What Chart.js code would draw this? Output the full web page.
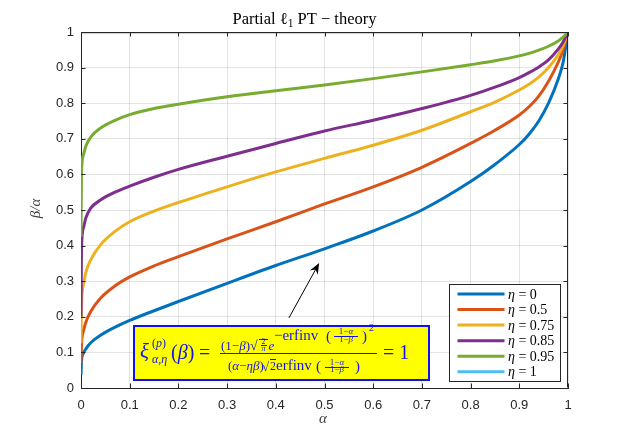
<!DOCTYPE html>
<html><head><meta charset="utf-8">
<script src="https://cdn.jsdelivr.net/npm/chart.js@4.4.0/dist/chart.umd.min.js"></script>
<style>
html,body{margin:0;padding:0;background:#fff;}
#wrap{position:relative;width:627px;height:436px;overflow:hidden;}
#c{position:absolute;left:0;top:0;}
.f{position:absolute;white-space:nowrap;line-height:1;font-family:'Liberation Serif',serif;color:#1414e6;}
.i{font-style:italic;}
.ln{position:absolute;background:#1414e6;}
.ct{text-align:center;}
</style></head><body>
<div id="wrap">
<canvas id="c" width="627" height="436"></canvas>
<div id="box" style="position:absolute;left:133px;top:325px;width:293px;height:52px;background:#ffff00;border:2px solid #1010f0;"></div>
<!-- formula -->
<span class="f i" style="font-size:21px;left:140px;top:341px;">ξ</span>
<span class="f" style="font-size:12px;left:152px;top:337px;">(<i>p</i>)</span>
<span class="f i" style="font-size:12px;left:152px;top:353px;">α,η</span>
<span class="f" style="font-size:20px;left:171px;top:342px;">(<i>β</i>)</span>
<span class="f" style="font-size:20px;left:199px;top:342px;">=</span>
<div class="ln" style="left:220px;top:352.5px;width:157px;height:1px;"></div>
<span class="f" style="font-size:13px;left:221px;top:339px;">(1−<i>β</i>)</span>
<span class="f" style="font-size:14px;left:250px;top:339px;">√</span>
<div class="ln" style="left:259px;top:338.5px;width:9px;height:0.8px;"></div>
<span class="f ct" style="font-size:8px;left:259px;width:9px;top:337.5px;">2</span>
<div class="ln" style="left:260.5px;top:345.3px;width:6px;height:0.6px;"></div>
<span class="f ct i" style="font-size:8px;left:259px;width:9px;top:344.5px;">π</span>
<span class="f i" style="font-size:13px;left:268.5px;top:339px;">e</span>
<span class="f" style="font-size:15px;left:274px;top:327.5px;">−erfinv</span>
<span class="f" style="font-size:15px;left:326px;top:328.5px;">(</span>
<span class="f ct" style="font-size:9px;left:331px;width:30px;top:327px;">1−<i>α</i></span>
<div class="ln" style="left:334px;top:336px;width:24px;height:0.7px;"></div>
<span class="f ct" style="font-size:9px;left:331px;width:30px;top:334.5px;">1−<i>β</i></span>
<span class="f" style="font-size:15px;left:362px;top:328.5px;">)</span>
<span class="f" style="font-size:10px;left:369px;top:322.5px;">2</span>
<span class="f" style="font-size:13px;left:228px;top:359px;">(<i>α</i>−<i>ηβ</i>)</span>
<span class="f" style="font-size:13px;left:262px;top:360px;">√</span>
<div class="ln" style="left:269.5px;top:358.6px;width:6.5px;height:0.8px;"></div>
<span class="f" style="font-size:12px;left:270px;top:360px;">2</span>
<span class="f" style="font-size:15px;left:276px;top:357.5px;">erfinv</span>
<span class="f" style="font-size:15px;left:316px;top:358.5px;">(</span>
<span class="f ct" style="font-size:9px;left:322px;width:30px;top:357.5px;">1−<i>α</i></span>
<div class="ln" style="left:325px;top:366.5px;width:24px;height:0.7px;"></div>
<span class="f ct" style="font-size:9px;left:322px;width:30px;top:365px;">1−<i>β</i></span>
<span class="f" style="font-size:15px;left:355px;top:358.5px;">)</span>
<span class="f" style="font-size:20px;left:383px;top:342px;">= 1</span>
</div>
<script>
// ---- data ----
const alpha  = [0, 0.001, 0.005, 0.01, 0.02, 0.04, 0.07, 0.1, 0.15, 0.2, 0.3, 0.4, 0.5, 0.6, 0.7, 0.8, 0.85, 0.9, 0.92, 0.94, 0.96, 0.98, 0.99, 1];
const eta0   = [0.037,0.075,0.098,0.110,0.127,0.148,0.171,0.190,0.217,0.243,0.294,0.344,0.391,0.441,0.500,0.580,0.628,0.684,0.713,0.750,0.800,0.868,0.915,1];
const eta05  = [0.070,0.120,0.160,0.185,0.215,0.252,0.287,0.312,0.343,0.369,0.419,0.467,0.517,0.565,0.620,0.687,0.724,0.767,0.790,0.820,0.862,0.915,0.950,1];
const eta075 = [0.126,0.230,0.290,0.325,0.360,0.402,0.440,0.467,0.497,0.521,0.565,0.607,0.645,0.682,0.724,0.776,0.803,0.837,0.853,0.873,0.900,0.936,0.962,1];
const eta085 = [0.200,0.390,0.450,0.478,0.505,0.528,0.550,0.567,0.592,0.614,0.651,0.687,0.722,0.752,0.785,0.822,0.845,0.872,0.886,0.902,0.922,0.952,0.972,1];
const eta095 = [0.425,0.600,0.655,0.680,0.705,0.730,0.752,0.768,0.785,0.797,0.818,0.835,0.851,0.869,0.888,0.908,0.919,0.933,0.940,0.949,0.960,0.975,0.986,1];
const alphaEnds = [0, 1];
const eta1   = [1, 1];
const etaLabels = ['0', '0.5', '0.75', '0.85', '0.95', '1'];
const xTicks = [0,0.1,0.2,0.3,0.4,0.5,0.6,0.7,0.8,0.9,1];
const yTicks = [0,0.1,0.2,0.3,0.4,0.5,0.6,0.7,0.8,0.9,1];
const arrowFrom = [0.427, 0.197];
const arrowTo   = [0.489, 0.351];

const colors = ['#0072BD','#D95319','#EDB120','#7E2F8E','#77AC30','#4DBEEE'];
const seriesX = [alpha, alpha, alpha, alpha, alpha, alphaEnds];
const seriesY = [eta0, eta05, eta075, eta085, eta095, eta1];

const datasets = seriesY.map((ys, k) => ({
  label: 'η = ' + etaLabels[k],
  data: ys.map((y, i) => ({x: seriesX[k][i], y: y})),
  borderColor: colors[k],
  backgroundColor: colors[k],
  borderWidth: 3,
  pointRadius: 0,
  fill: false,
  cubicInterpolationMode: 'monotone',
  order: 6 - k
}));

const AX = '#262626';
const deco = {
  id: 'deco',
  afterDatasetsDraw(chart) {
    const ctx = chart.ctx, ca = chart.chartArea;
    const xs = chart.scales.x, ys = chart.scales.y;
    ctx.save();
    // box top/right
    ctx.strokeStyle = AX; ctx.lineWidth = 1;
    ctx.beginPath();
    ctx.moveTo(Math.round(ca.left)+0.5, Math.round(ca.top)+0.5);
    ctx.lineTo(Math.round(ca.right)-0.5, Math.round(ca.top)+0.5);
    ctx.lineTo(Math.round(ca.right)-0.5, Math.round(ca.bottom)-0.5);
    ctx.stroke();
    // inward ticks
    const tl = 4.5;
    ctx.beginPath();
    xTicks.forEach(v => {
      const px = Math.round(xs.getPixelForValue(v)) + 0.5;
      ctx.moveTo(px, ca.bottom); ctx.lineTo(px, ca.bottom - tl);
      ctx.moveTo(px, ca.top); ctx.lineTo(px, ca.top + tl);
    });
    yTicks.forEach(v => {
      const py = Math.round(ys.getPixelForValue(v)) + 0.5;
      ctx.moveTo(ca.left, py); ctx.lineTo(ca.left + tl, py);
      ctx.moveTo(ca.right, py); ctx.lineTo(ca.right - tl, py);
    });
    ctx.stroke();
    // arrow
    const x0 = xs.getPixelForValue(arrowFrom[0]), y0 = ys.getPixelForValue(arrowFrom[1]);
    const x1 = xs.getPixelForValue(arrowTo[0]),   y1 = ys.getPixelForValue(arrowTo[1]);
    const L = Math.hypot(x1-x0, y1-y0), dx = (x1-x0)/L, dy = (y1-y0)/L, nx = -dy, ny = dx;
    ctx.strokeStyle = '#000'; ctx.fillStyle = '#000'; ctx.lineWidth = 1;
    ctx.beginPath(); ctx.moveTo(x0, y0); ctx.lineTo(x1 - dx*7, y1 - dy*7); ctx.stroke();
    ctx.beginPath();
    ctx.moveTo(x1, y1);
    ctx.lineTo(x1 - dx*11 + nx*4.5, y1 - dy*11 + ny*4.5);
    ctx.lineTo(x1 - dx*7.5, y1 - dy*7.5);
    ctx.lineTo(x1 - dx*11 - nx*4.5, y1 - dy*11 - ny*4.5);
    ctx.closePath(); ctx.fill();
    // legend
    const bw = 111, bh = 97;
    const bx = Math.round(ca.right - 8.5 - bw) + 0.5, by = Math.round(ca.bottom - 7.5 - bh) + 0.5;
    ctx.fillStyle = '#fff'; ctx.fillRect(bx, by, bw, bh);
    ctx.strokeStyle = AX; ctx.lineWidth = 1; ctx.strokeRect(bx, by, bw, bh);
    chart.data.datasets.forEach((ds, k) => {
      const cy = by + 9.5 + k * 15.55;
      ctx.strokeStyle = ds.borderColor; ctx.lineWidth = 3;
      ctx.beginPath(); ctx.moveTo(bx + 8, cy); ctx.lineTo(bx + 55, cy); ctx.stroke();
      ctx.fillStyle = '#000'; ctx.textBaseline = 'alphabetic'; ctx.textAlign = 'left';
      let tx = bx + 58.5;
      ctx.font = 'italic 14px "Liberation Serif"';
      ctx.fillText('η', tx, cy + 4.5); tx += ctx.measureText('η').width + 3.5;
      ctx.font = '14px "Liberation Serif"';
      ctx.fillText('=', tx, cy + 4.5); tx += ctx.measureText('=').width + 3.5;
      ctx.fillText(etaLabels[k], tx, cy + 4.5);
    });
    // title
    ctx.fillStyle = '#000'; ctx.textAlign = 'left'; ctx.textBaseline = 'alphabetic';
    const p1 = 'Partial ', p2 = 'ℓ', p4 = ' PT − theory';
    ctx.font = '16.5px "Liberation Serif"';
    const w1 = ctx.measureText(p1).width, w2 = ctx.measureText(p2).width, w4 = ctx.measureText(p4).width;
    ctx.font = '11.5px "Liberation Serif"';
    const w3 = ctx.measureText('1').width;
    let tx = 304.5 - (w1 + w2 + w3 + w4) / 2, tb = 23.5;
    ctx.font = '16.5px "Liberation Serif"';
    ctx.fillText(p1, tx, tb); tx += w1;
    ctx.fillText(p2, tx, tb); tx += w2;
    ctx.font = '11.5px "Liberation Serif"';
    ctx.fillText('1', tx, tb + 3); tx += w3;
    ctx.font = '16.5px "Liberation Serif"';
    ctx.fillText(p4, tx, tb);
    // x label
    ctx.fillStyle = '#404040';
    ctx.font = 'italic 15px "Liberation Serif"'; ctx.textAlign = 'center';
    ctx.fillText('α', 323, 423);
    // y label
    ctx.save(); ctx.translate(40, 208.5); ctx.rotate(-Math.PI/2);
    ctx.textAlign = 'center';
    ctx.font = 'italic 15px "Liberation Serif"';
    ctx.fillText('β/α', 0, 0);
    ctx.restore();
    ctx.restore();
  }
};

const fmt = v => (Math.abs(v) < 1e-9 ? '0' : Math.abs(v-1) < 1e-9 ? '1' : v.toFixed(1));

new Chart(document.getElementById('c'), {
  type: 'line',
  data: { datasets },
  options: {
    responsive: false,
    animation: false,
    devicePixelRatio: 1,
    layout: { padding: { top: 32, right: 59, left: 0, bottom: 0 } },
    plugins: { legend: { display: false }, title: { display: false }, tooltip: { enabled: false } },
    scales: {
      x: {
        type: 'linear', min: 0, max: 1,
        afterFit: s => { s.height = 48; },
        afterBuildTicks: s => { s.ticks = xTicks.map(v => ({ value: v })); },
        ticks: { callback: fmt, color: AX, font: { family: 'Liberation Sans', size: 13 }, padding: 10, maxRotation: 0, autoSkip: false },
        grid: { color: 'rgba(38,38,38,0.13)', drawTicks: false },
        border: { display: true, color: AX, width: 1 }
      },
      y: {
        type: 'linear', min: 0, max: 1,
        afterFit: s => { s.width = 81; },
        afterBuildTicks: s => { s.ticks = yTicks.map(v => ({ value: v })); },
        ticks: { callback: fmt, color: AX, font: { family: 'Liberation Sans', size: 13 }, padding: 7, autoSkip: false },
        grid: { color: 'rgba(38,38,38,0.13)', drawTicks: false },
        border: { display: true, color: AX, width: 1 }
      }
    }
  },
  plugins: [deco]
});
</script>
</body></html>
